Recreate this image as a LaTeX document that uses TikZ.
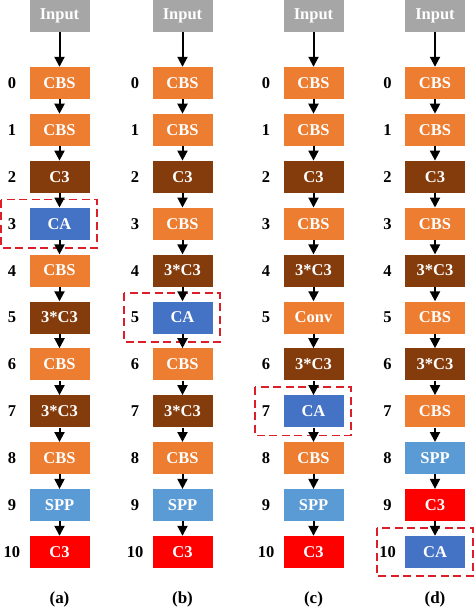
\documentclass[tikz,border=0pt]{standalone}
\usepackage{fontspec}
\setmainfont{Liberation Serif}
\usetikzlibrary{arrows.meta}
\definecolor{inputgray}{HTML}{A6A6A6}
\definecolor{cbsorange}{HTML}{ED7D31}
\definecolor{cthreebrown}{HTML}{843C0C}
\definecolor{cablue}{HTML}{4472C4}
\definecolor{sppblue}{HTML}{5B9BD5}
\definecolor{cthreered}{HTML}{FF0000}
\definecolor{hlred}{HTML}{DC1E28}
\begin{document}
\begin{tikzpicture}[x=1pt,y=-1pt,
  blk/.style={minimum width=60pt, minimum height=32pt, inner sep=0pt, text=white,
    font=\fontsize{16.5}{16.5}\selectfont\bfseries},
  inp/.style={blk, fill=inputgray},
  cbs/.style={blk, fill=cbsorange},
  cthree/.style={blk, fill=cthreebrown},
  cabox/.style={blk, fill=cablue},
  spp/.style={blk, fill=sppblue},
  redc/.style={blk, fill=cthreered},
  idx/.style={font=\fontsize{16.5}{16.5}\selectfont\bfseries, inner sep=0pt},
  captxt/.style={font=\fontsize{17}{17}\selectfont\bfseries, inner sep=0pt},
  flow/.style={-{Triangle[length=10pt,width=10pt]}, line width=2pt},
  hl/.style={draw=hlred, line width=1.8pt, dash pattern=on 8pt off 4.5pt}]
\useasboundingbox (0,0) rectangle (474,611);

% column (a)
\node[inp] (ain) at (59.5,16) {Input};
\foreach \i/\s/\t in {0/cbs/CBS,1/cbs/CBS,2/cthree/C3,3/cabox/CA,4/cbs/CBS,5/cthree/3*C3,6/cbs/CBS,7/cthree/3*C3,8/cbs/CBS,9/spp/SPP,10/redc/C3}{
  \node[\s] (a\i) at (59.5,83+46.9*\i) {\t};
  \node[idx] (al\i) at (12,83+46.9*\i) {\i};
}
% column (b)
\node[inp] (bin) at (182.5,16) {Input};
\foreach \i/\s/\t in {0/cbs/CBS,1/cbs/CBS,2/cthree/C3,3/cbs/CBS,4/cthree/3*C3,5/cabox/CA,6/cbs/CBS,7/cthree/3*C3,8/cbs/CBS,9/spp/SPP,10/redc/C3}{
  \node[\s] (b\i) at (182.5,83+46.9*\i) {\t};
  \node[idx] (bl\i) at (135,83+46.9*\i) {\i};
}
% column (c)
\node[inp] (cin) at (313.5,16) {Input};
\foreach \i/\s/\t in {0/cbs/CBS,1/cbs/CBS,2/cthree/C3,3/cbs/CBS,4/cthree/3*C3,5/cbs/Conv,6/cthree/3*C3,7/cabox/CA,8/cbs/CBS,9/spp/SPP,10/redc/C3}{
  \node[\s] (c\i) at (313.5,83+46.9*\i) {\t};
  \node[idx] (cl\i) at (266,83+46.9*\i) {\i};
}
% column (d)
\node[inp] (din) at (435,16) {Input};
\foreach \i/\s/\t in {0/cbs/CBS,1/cbs/CBS,2/cthree/C3,3/cbs/CBS,4/cthree/3*C3,5/cbs/CBS,6/cthree/3*C3,7/cbs/CBS,8/spp/SPP,9/redc/C3,10/cabox/CA}{
  \node[\s] (d\i) at (435,83+46.9*\i) {\t};
  \node[idx] (dl\i) at (387.5,83+46.9*\i) {\i};
}

% highlight boxes (behind the connectors)
\draw[hl] ([xshift=-28pt,yshift=8pt]a3.north west) rectangle ([xshift=7.5pt,yshift=-8pt]a3.south east);
\draw[hl] ([xshift=-28pt,yshift=8pt]b5.north west) rectangle ([xshift=7.5pt,yshift=-8pt]b5.south east);
\draw[hl] ([xshift=-28pt,yshift=8pt]c7.north west) rectangle ([xshift=7.5pt,yshift=-8pt]c7.south east);
\draw[hl] ([xshift=-28pt,yshift=8pt]d10.north west) rectangle ([xshift=7.5pt,yshift=-8pt]d10.south east);

% connectors
\foreach \c in {a,b,c,d}{
  \draw[flow] (\c in) -- (\c0);
  \foreach \i [evaluate=\i as \j using int(\i+1)] in {0,...,9}{
    \draw[flow] (\c\i) -- (\c\j);
  }
}

% captions
\node[captxt] (capa) at (59.5,599) {(a)};
\node[captxt] (capb) at (182.5,599) {(b)};
\node[captxt] (capc) at (313.5,599) {(c)};
\node[captxt] (capd) at (435,599) {(d)};
\end{tikzpicture}
\end{document}
